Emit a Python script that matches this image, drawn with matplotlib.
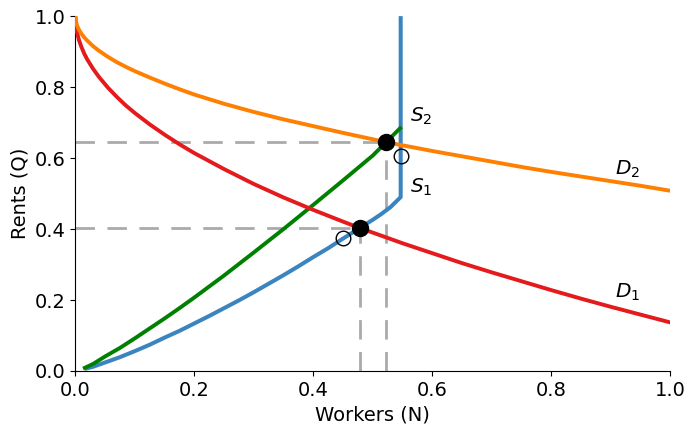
import matplotlib
matplotlib.use("Agg")
import matplotlib.pyplot as plt

# Demand curves
d1_x = [0.0, 0.001, 0.003, 0.006, 0.01, 0.015, 0.02, 0.03, 0.04, 0.055, 0.07, 0.085, 0.1, 0.125, 0.15, 0.175,
        0.2, 0.25, 0.3, 0.35, 0.4, 0.45, 0.478, 0.5, 0.55, 0.6, 0.65, 0.7, 0.75, 0.8, 0.85, 0.9, 0.95, 1.0]
d1_y = [1.0, 0.973, 0.953, 0.933, 0.914, 0.894, 0.878, 0.851, 0.828, 0.798, 0.772, 0.748, 0.727, 0.695, 0.666, 0.639,
        0.614, 0.569, 0.527, 0.489, 0.454, 0.421, 0.403, 0.39, 0.36, 0.332, 0.304, 0.278, 0.253, 0.228, 0.204, 0.181, 0.159, 0.137]
d2_x = [0.0, 0.001, 0.003, 0.006, 0.01, 0.015, 0.02, 0.03, 0.04, 0.055, 0.07, 0.085, 0.1, 0.125, 0.15, 0.175,
        0.2, 0.25, 0.3, 0.35, 0.4, 0.45, 0.5, 0.522, 0.55, 0.6, 0.65, 0.7, 0.75, 0.8, 0.85, 0.9, 0.95, 1.0]
d2_y = [1.0, 0.985, 0.973, 0.962, 0.951, 0.94, 0.931, 0.915, 0.902, 0.885, 0.870, 0.857, 0.845, 0.827, 0.81, 0.794,
        0.779, 0.753, 0.73, 0.709, 0.69, 0.671, 0.653, 0.645, 0.636, 0.62, 0.605, 0.59, 0.575, 0.561, 0.548, 0.535, 0.522, 0.508]

# Supply curves
s1_x = [0.016, 0.03, 0.05, 0.075, 0.1, 0.125, 0.15, 0.175, 0.2, 0.225, 0.25, 0.275, 0.3, 0.325, 0.35, 0.375,
        0.4, 0.425, 0.45, 0.478, 0.5, 0.515, 0.53, 0.547, 0.547]
s1_y = [0.006, 0.012, 0.024, 0.039, 0.056, 0.074, 0.094, 0.113, 0.134, 0.155, 0.177, 0.199, 0.222, 0.246, 0.27, 0.295,
        0.321, 0.346, 0.373, 0.403, 0.426, 0.443, 0.462, 0.49, 1.0]
s2_x = [0.016, 0.03, 0.05, 0.075, 0.1, 0.125, 0.15, 0.175, 0.2, 0.25, 0.3, 0.35, 0.4, 0.45, 0.5, 0.522, 0.546]
s2_y = [0.009, 0.02, 0.041, 0.065, 0.092, 0.12, 0.148, 0.177, 0.207, 0.269, 0.334, 0.4, 0.468, 0.537, 0.607, 0.644, 0.684]

# Equilibria and off-equilibrium points
eq_x = [0.478, 0.522]
eq_y = [0.403, 0.644]
open_x = [0.45, 0.547]
open_y = [0.375, 0.605]

# Labels
lab_text = ["$S_2$", "$S_1$", "$D_2$", "$D_1$"]
lab_x = [0.581, 0.581, 0.929, 0.929]
lab_y = [0.718, 0.518, 0.569, 0.221]

fig = plt.figure(figsize=(6.88, 4.24), dpi=100)
ax = fig.add_axes([0.1095, 0.125, 0.8645, 0.837])

dash = dict(color="#aaaaaa", lw=2.0, linestyle=(0, (7, 4.5)), zorder=1)
for x, y in zip(eq_x, eq_y):
    ax.plot([0, x], [y, y], **dash)
    ax.plot([x, x], [0, y], **dash)

ax.plot(s1_x, s1_y, color="#3a84c0", lw=2.9, zorder=2, solid_capstyle="butt")
ax.plot(s2_x, s2_y, color="green", lw=2.8, zorder=2)
ax.plot(d1_x, d1_y, color="#e41a1c", lw=2.8, zorder=3)
ax.plot(d2_x, d2_y, color="#ff7f00", lw=2.8, zorder=3)

ax.plot(eq_x, eq_y, "o", color="black", ms=11.5, zorder=5, linestyle="none")
ax.plot(open_x, open_y, "o", mfc="none", mec="black", mew=1.0, ms=10.5, zorder=5, linestyle="none")

for t, x, y in zip(lab_text, lab_x, lab_y):
    ax.text(x, y, t, fontsize=14.5, ha="center", va="center")

ax.set_xlim(0, 1)
ax.set_ylim(0, 1)
ax.set_xticks([0, 0.2, 0.4, 0.6, 0.8, 1.0])
ax.set_yticks([0, 0.2, 0.4, 0.6, 0.8, 1.0])
ax.tick_params(labelsize=14)
ax.set_xlabel("Workers (N)", fontsize=14)
ax.set_ylabel("Rents (Q)", fontsize=14)
ax.spines["top"].set_visible(False)
ax.spines["right"].set_visible(False)

fig.savefig("out.png", dpi=100)
